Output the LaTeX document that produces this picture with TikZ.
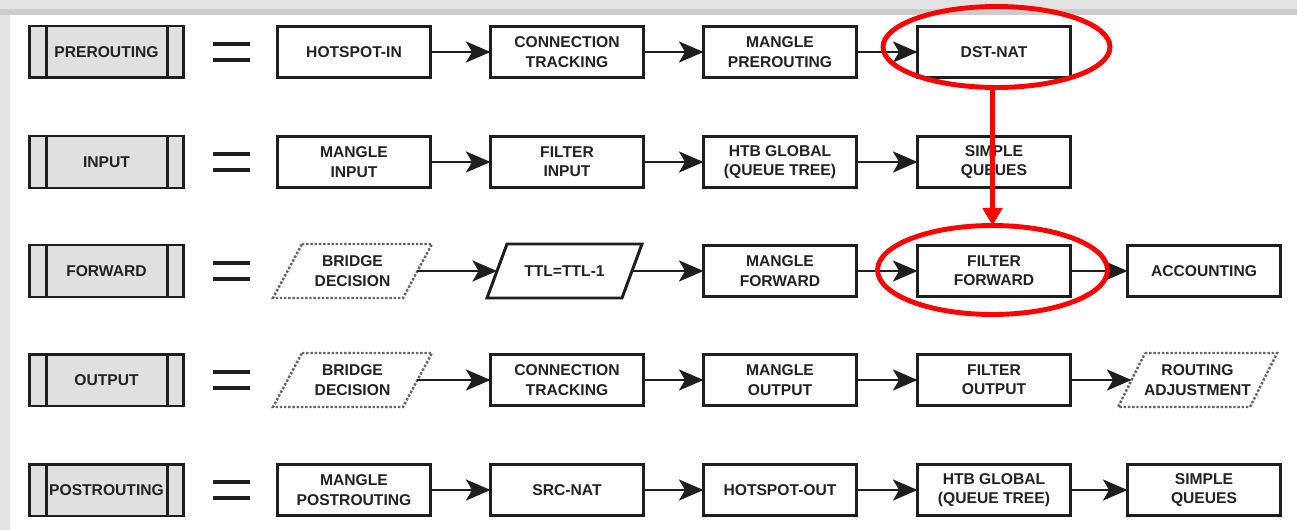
\documentclass[tikz,border=0pt]{standalone}
\usepackage{fontspec}
\setmainfont{Liberation Sans}
\usetikzlibrary{arrows.meta,shapes.geometric}
\definecolor{edge}{HTML}{1E1E1E}
\definecolor{txt}{HTML}{222222}
\definecolor{shade}{HTML}{E0E0E0}

\begin{document}
\begin{tikzpicture}[x=0.02cm, y=-0.02cm,
		every node/.style={font=\fontsize{8.9}{11}\selectfont\bfseries, text=txt, align=center, outer sep=0pt},
		stage/.style={draw=edge, line width=1.7pt, minimum width=3.06cm, minimum height=1.02cm},
		chain/.style={stage, fill=shade, minimum width=3.08cm, minimum height=1.04cm},
		io/.style={minimum width=2.6cm, minimum height=1.08cm},
		dotbox/.style={draw=gray!80!black, densely dotted, line width=1.4pt},
		flow/.style={draw=edge, line width=1.3pt, -{Stealth[length=14pt, width=12pt, inset=3.5pt]}},
		bar/.style={draw=edge, line width=1.8pt},
		ring/.style={ellipse, draw=red, line width=2.8pt},
		jump/.style={draw=red, line width=2.4pt, -{Triangle[length=10pt, width=11pt]}}]

		\useasboundingbox (0,0) rectangle (1297,530);
		\fill[gray!22] (0,0) rectangle (1297,530);
		\fill[gray!40] (0,9) rectangle (1297,15);
		\fill[white] (10,15) rectangle (1297,530);

		% PREROUTING
		\node[chain] (pre) at (106.5,52) {PREROUTING};
		\draw[bar] ([xshift=0.34cm]pre.north west) -- ([xshift=0.34cm]pre.south west);
		\draw[bar] ([xshift=-0.32cm]pre.north east) -- ([xshift=-0.32cm]pre.south east);
		\draw[bar] (213,44) -- (250,44);
		\draw[bar] (213,60) -- (250,60);
		\node[stage] (hsin) at (354,52) {HOTSPOT-IN};
		\node[stage] (ctpre) at (567,52) {CONNECTION\\TRACKING};
		\node[stage] (mpre) at (780,52) {MANGLE\\PREROUTING};
		\node[stage] (dnat) at (994,52) {DST-NAT};
		\draw[flow] (hsin) -- (ctpre);
		\draw[flow] (ctpre) -- (mpre);
		\draw[flow] (mpre) -- (dnat);

		% INPUT
		\node[chain] (inp) at (106.5,162) {INPUT};
		\draw[bar] ([xshift=0.34cm]inp.north west) -- ([xshift=0.34cm]inp.south west);
		\draw[bar] ([xshift=-0.32cm]inp.north east) -- ([xshift=-0.32cm]inp.south east);
		\draw[bar] (213,154) -- (250,154);
		\draw[bar] (213,170) -- (250,170);
		\node[stage] (minp) at (354,162) {MANGLE\\INPUT};
		\node[stage] (finp) at (567,162) {FILTER\\INPUT};
		\node[stage] (htbin) at (780,162) {HTB GLOBAL\\(QUEUE TREE)};
		\node[stage] (sqin) at (994,162) {SIMPLE\\QUEUES};
		\draw[flow] (minp) -- (finp);
		\draw[flow] (finp) -- (htbin);
		\draw[flow] (htbin) -- (sqin);

		% FORWARD
		\node[chain] (fwd) at (106.5,271) {FORWARD};
		\draw[bar] ([xshift=0.34cm]fwd.north west) -- ([xshift=0.34cm]fwd.south west);
		\draw[bar] ([xshift=-0.32cm]fwd.north east) -- ([xshift=-0.32cm]fwd.south east);
		\draw[bar] (213,263) -- (250,263);
		\draw[bar] (213,279) -- (250,279);
		\node[io] (bdfwd) at (352.5,271) {BRIDGE\\DECISION};
		\draw[dotbox] ([xshift=0.29cm]bdfwd.north west) -- ([xshift=0.29cm]bdfwd.north east)
			-- ([xshift=-0.29cm]bdfwd.south east) -- ([xshift=-0.29cm]bdfwd.south west) -- cycle;
		\node[io, minimum width=2.7cm] (ttl) at (564.5,271) {TTL=TTL-1};
		\draw[draw=edge, line width=1.7pt] ([xshift=0.2cm]ttl.north west) -- ([xshift=0.2cm]ttl.north east)
			-- ([xshift=-0.2cm]ttl.south east) -- ([xshift=-0.2cm]ttl.south west) -- cycle;
		\node[stage] (mfwd) at (780,271) {MANGLE\\FORWARD};
		\node[stage] (ffwd) at (994,271) {FILTER\\FORWARD};
		\node[stage] (acct) at (1204,271) {ACCOUNTING};
		\draw[flow] (bdfwd) -- (ttl);
		\draw[flow] (ttl) -- (mfwd);
		\draw[flow] (mfwd) -- (ffwd);
		\draw[flow] (ffwd) -- (acct);

		% OUTPUT
		\node[chain] (out) at (106.5,380) {OUTPUT};
		\draw[bar] ([xshift=0.34cm]out.north west) -- ([xshift=0.34cm]out.south west);
		\draw[bar] ([xshift=-0.32cm]out.north east) -- ([xshift=-0.32cm]out.south east);
		\draw[bar] (213,372) -- (250,372);
		\draw[bar] (213,388) -- (250,388);
		\node[io] (bdout) at (352.5,380) {BRIDGE\\DECISION};
		\draw[dotbox] ([xshift=0.29cm]bdout.north west) -- ([xshift=0.29cm]bdout.north east)
			-- ([xshift=-0.29cm]bdout.south east) -- ([xshift=-0.29cm]bdout.south west) -- cycle;
		\node[stage] (ctout) at (567,380) {CONNECTION\\TRACKING};
		\node[stage] (mout) at (780,380) {MANGLE\\OUTPUT};
		\node[stage] (fout) at (994,380) {FILTER\\OUTPUT};
		\node[io, minimum width=2.64cm] (radj) at (1197.5,380) {ROUTING\\ADJUSTMENT};
		\draw[dotbox] ([xshift=0.27cm]radj.north west) -- ([xshift=0.27cm]radj.north east)
			-- ([xshift=-0.27cm]radj.south east) -- ([xshift=-0.27cm]radj.south west) -- cycle;
		\draw[flow] (bdout) -- (ctout);
		\draw[flow] (ctout) -- (mout);
		\draw[flow] (mout) -- (fout);
		\draw[flow] (fout) -- (radj);

		% POSTROUTING
		\node[chain] (post) at (106.5,490) {POSTROUTING};
		\draw[bar] ([xshift=0.34cm]post.north west) -- ([xshift=0.34cm]post.south west);
		\draw[bar] ([xshift=-0.32cm]post.north east) -- ([xshift=-0.32cm]post.south east);
		\draw[bar] (213,482) -- (250,482);
		\draw[bar] (213,498) -- (250,498);
		\node[stage] (mpost) at (354,490) {MANGLE\\POSTROUTING};
		\node[stage] (snat) at (567,490) {SRC-NAT};
		\node[stage] (hsout) at (780,490) {HOTSPOT-OUT};
		\node[stage] (htbpost) at (994,490) {HTB GLOBAL\\(QUEUE TREE)};
		\node[stage] (sqpost) at (1204,490) {SIMPLE\\QUEUES};
		\draw[flow] (mpost) -- (snat);
		\draw[flow] (snat) -- (hsout);
		\draw[flow] (hsout) -- (htbpost);
		\draw[flow] (htbpost) -- (sqpost);

		% highlight
		\node[ring, minimum width=4.54cm, minimum height=1.62cm] (dnring) at (996.5,47) {};
		\node[ring, minimum width=4.6cm, minimum height=1.78cm] (ffring) at (992.5,270) {};
		\draw[jump] (dnring.south -| ffring.north) -- (ffring.north);

	\end{tikzpicture}
\end{document}
